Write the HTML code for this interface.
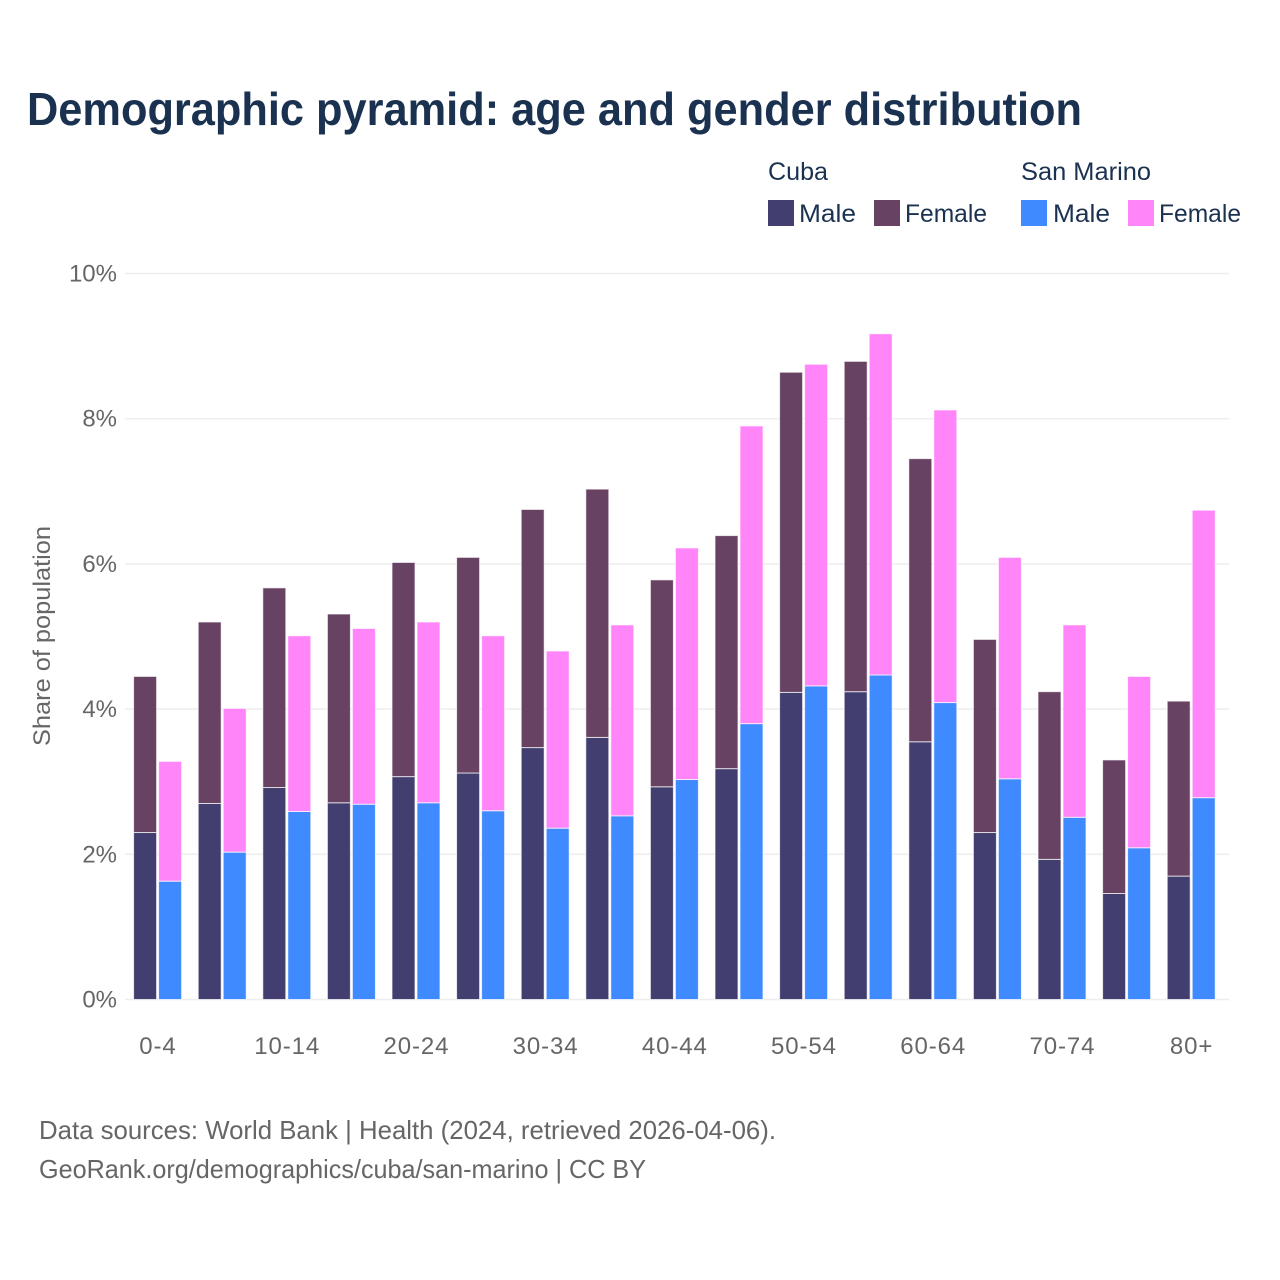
<!DOCTYPE html>
<html lang="en">
<head>
<meta charset="utf-8">
<title>Demographic pyramid</title>
<style>
html,body{margin:0;padding:0;background:#fff;}
svg{display:block;font-family:"Liberation Sans",sans-serif;}
</style>
</head>
<body>
<svg id="chart" xmlns="http://www.w3.org/2000/svg" width="1280" height="1280" viewBox="0 0 1280 1280">
  <rect x="0" y="0" width="1280" height="1280" fill="#ffffff"/>
  <text x="27" y="125" font-size="46" font-weight="700" fill="#1a3150" textLength="1055" lengthAdjust="spacingAndGlyphs">Demographic pyramid: age and gender distribution</text>

  <g font-size="25" fill="#1a3150">
    <text x="768" y="180" textLength="60" lengthAdjust="spacingAndGlyphs">Cuba</text>
    <text x="1021" y="180" textLength="130" lengthAdjust="spacingAndGlyphs">San Marino</text>
    <rect x="768" y="200" width="26" height="26" fill="#423f70"/>
    <text x="799" y="222" textLength="57" lengthAdjust="spacingAndGlyphs">Male</text>
    <rect x="874" y="200" width="26" height="26" fill="#684263"/>
    <text x="905" y="222" textLength="82" lengthAdjust="spacingAndGlyphs">Female</text>
    <rect x="1021" y="200" width="26" height="26" fill="#3f8aff"/>
    <text x="1053" y="222" textLength="57" lengthAdjust="spacingAndGlyphs">Male</text>
    <rect x="1128" y="200" width="26" height="26" fill="#ff85f9"/>
    <text x="1159" y="222" textLength="82" lengthAdjust="spacingAndGlyphs">Female</text>
  </g>

  <g id="grid"></g>
  <g id="bars"></g>
  <g id="y-ticks"></g>
  <g id="x-ticks"></g>

  <text transform="translate(50 636) rotate(-90)" text-anchor="middle" font-size="24" fill="#666666" textLength="220" lengthAdjust="spacingAndGlyphs">Share of population</text>

  <text x="39" y="1139" font-size="26" fill="#666666" textLength="737" lengthAdjust="spacingAndGlyphs">Data sources: World Bank | Health (2024, retrieved 2026-04-06).</text>
  <text x="39" y="1178" font-size="26" fill="#666666" textLength="607" lengthAdjust="spacingAndGlyphs">GeoRank.org/demographics/cuba/san-marino | CC BY</text>
</svg>
<script>
const categories = ["0-4","5-9","10-14","15-19","20-24","25-29","30-34","35-39","40-44","45-49","50-54","55-59","60-64","65-69","70-74","75-79","80+"];
const cubaMale = [2.30,2.70,2.92,2.71,3.07,3.12,3.47,3.61,2.93,3.18,4.23,4.24,3.55,2.30,1.93,1.46,1.70];
const cubaFemale = [2.15,2.50,2.75,2.60,2.95,2.97,3.28,3.42,2.85,3.21,4.41,4.55,3.90,2.66,2.31,1.84,2.41];
const sanMarinoMale = [1.63,2.03,2.59,2.69,2.71,2.60,2.36,2.53,3.03,3.80,4.32,4.47,4.09,3.04,2.51,2.09,2.78];
const sanMarinoFemale = [1.65,1.98,2.42,2.42,2.49,2.41,2.44,2.63,3.19,4.10,4.43,4.70,4.03,3.05,2.65,2.36,3.96];
const yTickValues = [0,2,4,6,8,10];
const yTickLabels = ["0%","2%","4%","6%","8%","10%"];

const NS = "http://www.w3.org/2000/svg";
function yScale(v) { return 999.5 - v * 72.6; }
function xScale(i) { return 157.6 + i * 64.6; }

const gridLayer = document.getElementById("grid");
const yTickLayer = document.getElementById("y-ticks");
yTickValues.forEach(function (v, i) {
  const line = document.createElementNS(NS, "line");
  
  
  line.setAttribute("x1", 125);
  line.setAttribute("x2", 1229);
  line.setAttribute("y1", yScale(v));
  line.setAttribute("y2", yScale(v));
  line.setAttribute("stroke", "#eeeeee");
  line.setAttribute("stroke-width", 1.6);
  gridLayer.appendChild(line);

  const label = document.createElementNS(NS, "text");
  
  
  label.setAttribute("x", 117);
  label.setAttribute("y", yScale(v) + 8);
  label.setAttribute("text-anchor", "end");
  label.setAttribute("font-size", 24);
  label.setAttribute("fill", "#666666");
  label.textContent = yTickLabels[i];
  yTickLayer.appendChild(label);
});

function drawBar(layer, x, base, value, color) {
  const rect = document.createElementNS(NS, "rect");
  
  
  const top = yScale(base + value);
  rect.setAttribute("x", x);
  rect.setAttribute("y", top);
  rect.setAttribute("width", 23);
  rect.setAttribute("height", yScale(base) - top);
  rect.setAttribute("fill", color);
  rect.setAttribute("stroke", "#ffffff");
  rect.setAttribute("stroke-opacity", 0.7);
  rect.setAttribute("stroke-width", 1);
  layer.appendChild(rect);
}

const barLayer = document.getElementById("bars");
const xTickLayer = document.getElementById("x-ticks");
categories.forEach(function (name, i) {
  const c = xScale(i);
  drawBar(barLayer, c - 24, 0, cubaMale[i], "#423f70");
  drawBar(barLayer, c - 24, cubaMale[i], cubaFemale[i], "#684263");
  drawBar(barLayer, c + 1, 0, sanMarinoMale[i], "#3f8aff");
  drawBar(barLayer, c + 1, sanMarinoMale[i], sanMarinoFemale[i], "#ff85f9");
  if (i % 2 === 0) {
    const label = document.createElementNS(NS, "text");
    
    
    label.setAttribute("x", c + 0.4);
    label.setAttribute("y", 1054);
    label.setAttribute("text-anchor", "middle");
    label.setAttribute("font-size", 24);
    label.setAttribute("letter-spacing", "0.9");
    label.setAttribute("fill", "#666666");
    label.textContent = name;
    xTickLayer.appendChild(label);
  }
});
</script>
</body>
</html>
